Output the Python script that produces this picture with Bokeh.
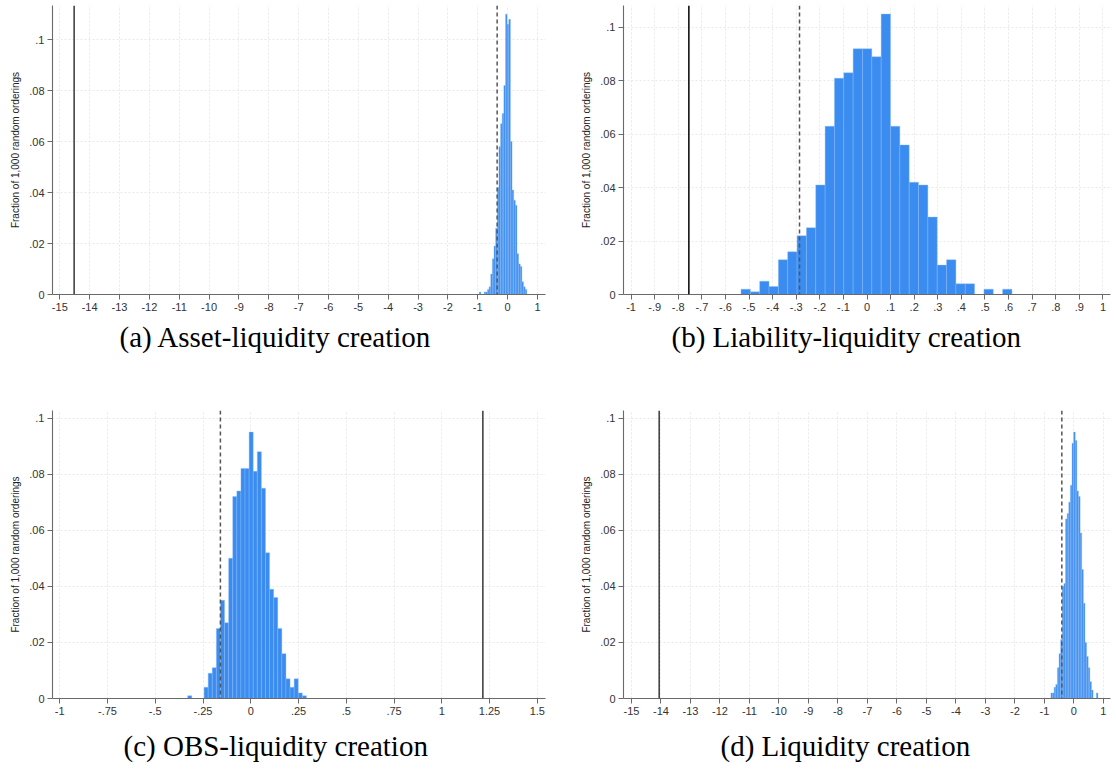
import numpy as np
from bokeh.plotting import figure
from bokeh.layouts import gridplot
from bokeh.models import Span, Title, ColumnDataSource
from bokeh.embed import file_html
from bokeh.resources import INLINE

# ---------------- data ----------------
y_ticks = [0, 0.02, 0.04, 0.06, 0.08, 0.1]
y_labels = ["0", ".02", ".04", ".06", ".08", ".1"]
y_title = "Fraction of 1,000 random orderings"

# (a) Asset-liquidity creation
a_caption = "(a) Asset-liquidity creation"
a_bin_start = -0.95
a_bin_width = 0.055
a_fraction = [0.001, 0, 0, 0.001, 0.001, 0.002, 0.003, 0.008, 0.014, 0.019,
              0.026, 0.042, 0.058, 0.067, 0.071, 0.082, 0.110, 0.106, 0.108, 0.060,
              0.041, 0.037, 0.035, 0.016, 0.012, 0.011, 0.005, 0.003, 0.002, 0]
a_actual = -14.52
a_cutoff = -0.35
a_xticks = [-15, -14, -13, -12, -11, -10, -9, -8, -7, -6, -5, -4, -3, -2, -1, 0, 1]
a_xlabels = ["-15", "-14", "-13", "-12", "-11", "-10", "-9", "-8", "-7", "-6",
             "-5", "-4", "-3", "-2", "-1", "0", "1"]

# (b) Liability-liquidity creation
b_caption = "(b) Liability-liquidity creation"
b_bin_start = -0.534
b_bin_width = 0.0396
b_fraction = [0.002, 0.001, 0.005, 0.003, 0.013, 0.016, 0.022, 0.025, 0.041, 0.063,
              0.081, 0.083, 0.092, 0.092, 0.089, 0.105, 0.063, 0.056, 0.042, 0.041,
              0.029, 0.011, 0.013, 0.004, 0.004, 0, 0.002, 0, 0.002]
b_actual = -0.755
b_cutoff = -0.286
b_xticks = [-1, -0.9, -0.8, -0.7, -0.6, -0.5, -0.4, -0.3, -0.2, -0.1, 0,
            0.1, 0.2, 0.3, 0.4, 0.5, 0.6, 0.7, 0.8, 0.9, 1]
b_xlabels = ["-1", "-.9", "-.8", "-.7", "-.6", "-.5", "-.4", "-.3", "-.2", "-.1", "0",
             ".1", ".2", ".3", ".4", ".5", ".6", ".7", ".8", ".9", "1"]

# (c) OBS-liquidity creation
c_caption = "(c) OBS-liquidity creation"
c_bin_start = -0.3301
c_bin_width = 0.02143
c_fraction = [0.001, 0, 0, 0, 0.004, 0.009, 0.011, 0.025, 0.035, 0.027,
              0.050, 0.072, 0.074, 0.082, 0.082, 0.095, 0.081, 0.088, 0.075, 0.052,
              0.039, 0.036, 0.025, 0.016, 0.007, 0.004, 0.007, 0.002, 0.001]
c_actual = 1.215
c_cutoff = -0.159
c_xticks = [-1, -0.75, -0.5, -0.25, 0, 0.25, 0.5, 0.75, 1, 1.25, 1.5]
c_xlabels = ["-1", "-.75", "-.5", "-.25", "0", ".25", ".5", ".75", "1", "1.25", "1.5"]

# (d) Liquidity creation
d_caption = "(d) Liquidity creation"
d_bin_start = -0.78
d_bin_width = 0.055
d_fraction = [0.002, 0.002, 0.004, 0.005, 0.011, 0.016, 0.021, 0.040, 0.041, 0.064,
              0.066, 0.070, 0.076, 0.091, 0.095, 0.092, 0.074, 0.072, 0.059, 0.046,
              0.034, 0.020, 0.015, 0.011, 0.006, 0.003, 0, 0, 0.002, 0]
d_actual = -14.06
d_cutoff = -0.41
d_xticks = a_xticks
d_xlabels = a_xlabels

BAR = "#3a8cf0"
SANS = "Liberation Sans"
SERIF = "Liberation Serif"


def panel(caption, start, bw, frac, actual, cutoff, xticks, xlabels,
          xr, yr, w, h, borders, title_standoff, title_offset, actual_color):
    left, right, top, bottom = borders
    p = figure(width=w, height=h, x_range=xr, y_range=yr,
               output_backend="svg", toolbar_location=None,
               min_border_left=left, min_border_right=right,
               min_border_top=top, min_border_bottom=bottom,
               background_fill_color="white", border_fill_color="white")
    p.outline_line_color = None

    frac = np.asarray(frac, dtype=float)
    edges = start + bw * np.arange(len(frac) + 1)
    src = ColumnDataSource(dict(left=edges[:-1], right=edges[1:],
                                top=frac, bottom=np.zeros(len(frac))))
    p.quad(left="left", right="right", top="top", bottom="bottom", source=src,
           fill_color=BAR, line_color="#8dbcf5", line_width=0.5, line_alpha=0.8)

    p.add_layout(Span(location=actual, dimension="height",
                      line_color=actual_color, line_width=1.6))
    p.add_layout(Span(location=cutoff, dimension="height",
                      line_color="#555555", line_width=1.5, line_dash="4 3"))

    p.xaxis.ticker = xticks
    p.yaxis.ticker = y_ticks
    p.xaxis.major_label_overrides = {float(v): s for v, s in zip(xticks, xlabels)}
    p.yaxis.major_label_overrides = {float(v): s for v, s in zip(y_ticks, y_labels)}
    p.xgrid.ticker = xticks
    p.ygrid.ticker = y_ticks
    for g in (p.xgrid, p.ygrid):
        g.grid_line_color = "#e3e3e3"
        g.grid_line_dash = "2 2"
        g.grid_line_width = 0.8

    for ax in (p.xaxis, p.yaxis):
        ax.axis_line_color = "#6a6a6a"
        ax.axis_line_width = 1.1
        ax.major_tick_line_color = "#6a6a6a"
        ax.major_tick_out = 5
        ax.major_tick_in = 0
        ax.minor_tick_line_color = None
        ax.major_label_text_font = SANS
        ax.major_label_text_font_size = "11px"
        ax.major_label_text_color = "#333333"
        ax.major_label_standoff = 3
    p.yaxis.axis_label = y_title
    p.yaxis.axis_label_text_font = SANS
    p.yaxis.axis_label_text_font_size = "10px"
    p.yaxis.axis_label_text_font_style = "normal"
    p.yaxis.axis_label_text_color = "#222222"
    p.yaxis.axis_label_standoff = 5

    p.add_layout(Title(text=caption, align="left", offset=title_offset,
                       text_font=SERIF, text_font_size="29px",
                       text_font_style="normal", text_color="#000000",
                       standoff=title_standoff), "below")
    return p


pa = panel(a_caption, a_bin_start, a_bin_width, a_fraction, a_actual, a_cutoff,
           a_xticks, a_xlabels, (-15.245, 1.27), (0, 0.1134), 571, 400,
           (52, 26, 5, 106), 11, 67, "#444444")
pb = panel(b_caption, b_bin_start, b_bin_width, b_fraction, b_actual, b_cutoff,
           b_xticks, b_xlabels, (-1.032, 1.032), (0, 0.1082), 545, 400,
           (52, 6, 5, 106), 11, 48, "#111111")
pc = panel(c_caption, c_bin_start, c_bin_width, c_fraction, c_actual, c_cutoff,
           c_xticks, c_xlabels, (-1.038, 1.543), (0, 0.1027), 571, 384,
           (52, 26, 10, 86), 20, 71, "#444444")
pd = panel(d_caption, d_bin_start, d_bin_width, d_fraction, d_actual, d_cutoff,
           d_xticks, d_xlabels, (-15.27, 1.24), (0, 0.1027), 545, 384,
           (52, 6, 10, 86), 20, 97, "#444444")

grid = gridplot([[pa, pb], [pc, pd]], toolbar_location=None)

open("out.html", "w").write(file_html(grid, INLINE))
